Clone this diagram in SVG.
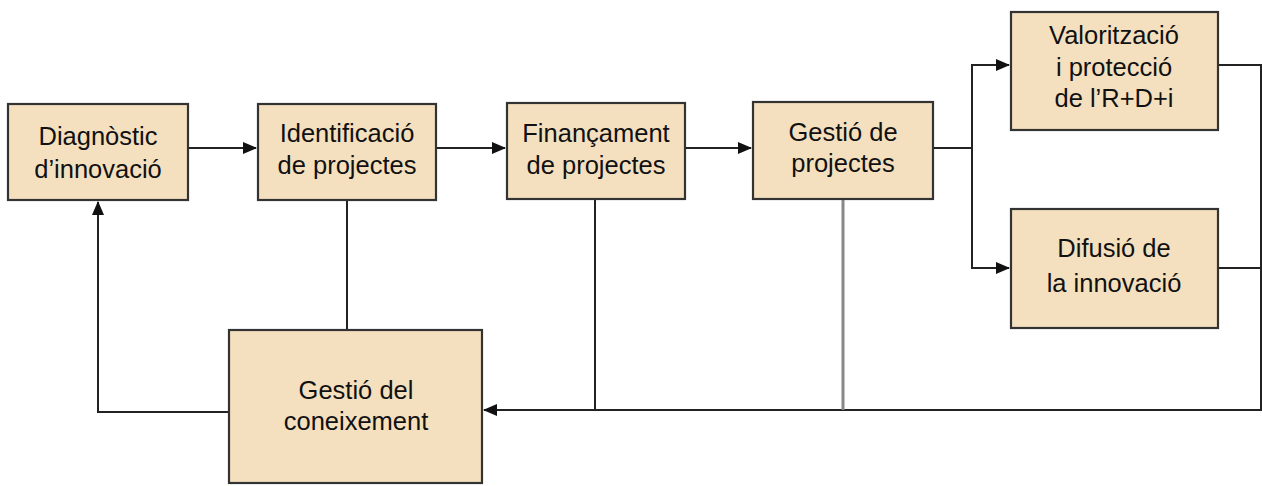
<svg xmlns="http://www.w3.org/2000/svg" width="1262" height="486" viewBox="0 0 1262 486">
<defs>
<marker id="arr" markerWidth="14" markerHeight="14" refX="13" refY="7" orient="auto" markerUnits="userSpaceOnUse">
<path d="M0,1 L14,7 L0,13 Z" fill="#111"/>
</marker>
<style>
.box{fill:#F4E0BF;stroke:#333;stroke-width:2.2}
.t{font-family:"Liberation Sans",Arial,sans-serif;font-size:25.5px;fill:#111;text-anchor:middle}
.c{fill:none;stroke:#222;stroke-width:2}
.g{fill:none;stroke:#888;stroke-width:3}
</style>
</defs>
<rect width="1262" height="486" fill="#fff"/>
<g id="connectors">
<line class="c" x1="188" y1="148" x2="256" y2="148" marker-end="url(#arr)"/>
<line class="c" x1="436" y1="148" x2="505" y2="148" marker-end="url(#arr)"/>
<line class="c" x1="685" y1="148" x2="751" y2="148" marker-end="url(#arr)"/>
<polyline class="c" points="933,148 972,148 972,65 1009,65" marker-end="url(#arr)"/>
<polyline class="c" points="972,148 972,268 1009,268" marker-end="url(#arr)"/>
<polyline class="c" points="1218,65 1261,65 1261,410 1218,410"/>
<line class="c" x1="1218" y1="268" x2="1261" y2="268"/>
<line class="c" x1="1218" y1="410" x2="484" y2="410" marker-end="url(#arr)"/>
<line class="c" x1="347" y1="200" x2="347" y2="330"/>
<line class="c" x1="595" y1="199" x2="595" y2="410"/>
<line class="g" x1="843" y1="199" x2="843" y2="410"/>
<polyline class="c" points="229,412 98,412 98,202" marker-end="url(#arr)"/>
</g>
<g id="n1"><rect class="box" x="8" y="104" width="180" height="96"/>
<text class="t" x="98" y="145">Diagnòstic</text><text class="t" x="98" y="178">d’innovació</text></g>
<g id="n2"><rect class="box" x="258" y="104" width="178" height="96"/>
<text class="t" x="347" y="142">Identificació</text><text class="t" x="347" y="174">de projectes</text></g>
<g id="n3"><rect class="box" x="507" y="103" width="178" height="96"/>
<text class="t" x="596" y="142">Finançament</text><text class="t" x="596" y="174">de projectes</text></g>
<g id="n4"><rect class="box" x="753" y="102" width="180" height="97"/>
<text class="t" x="843" y="141">Gestió de</text><text class="t" x="843" y="172">projectes</text></g>
<g id="n5"><rect class="box" x="1011" y="12" width="207" height="118"/>
<text class="t" x="1114" y="44">Valorització</text><text class="t" x="1114" y="76">i protecció</text><text class="t" x="1114" y="107">de l’R+D+i</text></g>
<g id="n6"><rect class="box" x="1011" y="209" width="207" height="119"/>
<text class="t" x="1114" y="257">Difusió de</text><text class="t" x="1114" y="292">la innovació</text></g>
<g id="n7"><rect class="box" x="229" y="330" width="253" height="153"/>
<text class="t" x="356" y="399">Gestió del</text><text class="t" x="356" y="430">coneixement</text></g>
</svg>
